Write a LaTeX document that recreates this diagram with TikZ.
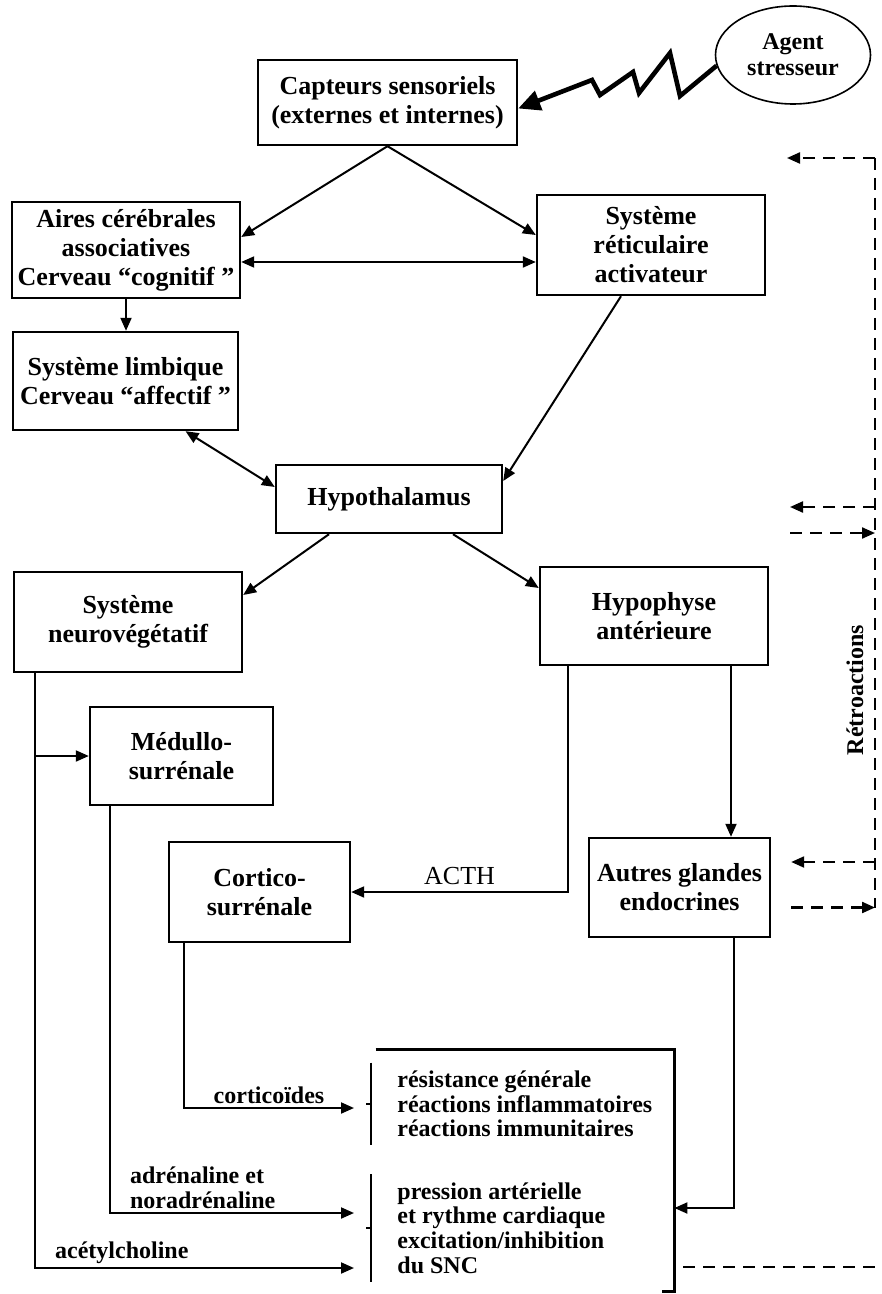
\documentclass[tikz,border=0pt]{standalone}
\usepackage{fontspec}
\setmainfont{Liberation Serif}
\usetikzlibrary{arrows.meta,shapes.geometric}

\begin{document}
\begin{tikzpicture}[
    x=0.5pt, y=-0.5pt,
    >={Triangle[length=6.5pt,width=5.5pt]},
    organe/.style={draw, line width=1.2pt, align=center, inner sep=2pt,
                   font=\fontsize{13}{14.5}\selectfont\bfseries},
    effet/.style={align=left, inner sep=0pt,
                  font=\fontsize{12}{12.3}\selectfont\bfseries},
    hormone/.style={font=\fontsize{12}{12.5}\selectfont\bfseries,
                    inner sep=1.5pt, align=left},
    flow/.style={->, line width=1pt},
    foudre/.style={-{Triangle[length=11pt,width=10pt]}, line width=2.3pt,
                   line join=miter},
    retro/.style={line width=1.1pt, dash pattern=on 6pt off 4pt},
]
\useasboundingbox (0,0) rectangle (882,1294);

% --- stress input ---
\node[organe, minimum width=129.5pt, minimum height=42.5pt] (capteurs)
  at (387.5,102.5) {Capteurs sensoriels\\(externes et internes)};
\node[draw, ellipse, line width=0.8pt, inner sep=0pt, align=center,
      minimum width=77.5pt, minimum height=49pt,
      font=\fontsize{12}{13}\selectfont\bfseries] (stresseur)
  at (793,55) {Agent\\stresseur};

% --- brain ---
\node[organe, minimum width=114pt, minimum height=48pt] (aires)
  at (126,250) {Aires cérébrales\\associatives\\Cerveau “cognitif ”};
\node[organe, minimum width=114pt, minimum height=50pt] (reticulaire)
  at (651,245) {Système\\réticulaire\\activateur};
\node[organe, minimum width=112.5pt, minimum height=49pt] (limbique)
  at (125.5,381) {Système limbique\\Cerveau “affectif ”};
\node[organe, minimum width=113pt, minimum height=34pt] (hypothalamus)
  at (389,499) {Hypothalamus};

% --- effectors ---
\node[organe, minimum width=114pt, minimum height=50pt] (neuro)
  at (128,622) {Système\\neurovégétatif};
\node[organe, minimum width=114pt, minimum height=49pt] (hypophyse)
  at (654,616) {Hypophyse\\antérieure};
\node[organe, minimum width=91.5pt, minimum height=49pt] (medullo)
  at (181.5,756) {Médullo-\\surrénale};
\node[organe, minimum width=90.5pt, minimum height=50pt] (cortico)
  at (259.5,892) {Cortico-\\surrénale};
\node[organe, minimum width=90.5pt, minimum height=49.5pt] (autres)
  at (679.5,887.5) {Autres glandes\\endocrines};

% --- effects ---
\node[minimum width=149pt, minimum height=120.5pt, inner sep=0pt] (effets)
  at (525,1170.5) {};
\draw[line width=1.2pt] (effets.north west) -- (effets.north east)
  -- (effets.south east) -- ++(-6pt,0);
\node[effet, anchor=west] (effetsA) at (397,1104)
  {résistance générale\\réactions inflammatoires\\réactions immunitaires};
\node[effet, anchor=west] (effetsB) at (397,1228)
  {pression artérielle\\et rythme cardiaque\\excitation/inhibition\\du SNC};
\foreach \e in {effetsA,effetsB} {
  \draw[line width=1pt] ([xshift=-13pt,yshift=4pt]\e.north west)
    -- ([xshift=-13pt,yshift=-4pt]\e.south west);
  \draw[line width=1pt] ([xshift=-13pt]\e.west) -- ++(-2.5pt,0);
}

% --- stressor ---
\draw[foudre] (stresseur.188) -- (680,96) -- (670,53) -- (639,93)
  -- (633,72) -- (600,95) -- (592,80) -- ([yshift=-3pt]capteurs.east);

% --- central pathways ---
\draw[flow] (capteurs.south) -- ([yshift=6.5pt]aires.east);
\draw[flow] (capteurs.south) -- ([yshift=5pt]reticulaire.west);
\coordinate (ar) at ([yshift=-6pt]aires.east);
\draw[flow, <->] (ar) -- (ar -| reticulaire.west);
\draw[flow] (aires.south) -- (aires.south |- limbique.north);
\draw[flow, <->] ([xshift=30pt]limbique.south) -- ([yshift=6pt]hypothalamus.west);
\draw[flow] ([xshift=-15pt]reticulaire.south) -- ([yshift=9pt]hypothalamus.east);
\draw[flow] ([xshift=-30pt]hypothalamus.south) -- ([yshift=13.5pt]neuro.east);
\draw[flow] ([xshift=32pt]hypothalamus.south) -- ([yshift=14pt]hypophyse.west);

% --- hormonal and nervous outputs ---
\coordinate (nv) at ([xshift=-46.5pt]neuro.south);
\draw[flow] (nv |- medullo.west) -- (medullo.west);
\draw[flow] (nv) |- node[pos=0.636, above, hormone]{acétylcholine}
  ([xshift=-21.5pt,yshift=-20pt]effetsB.west);
\draw[flow] ([xshift=-35.75pt]medullo.south)
  |- node[pos=0.69, above, hormone]{adrénaline et\\noradrénaline}
  ([xshift=-21.5pt,yshift=7.5pt]effetsB.west);
\draw[flow] ([xshift=-37.75pt]cortico.south)
  |- node[pos=0.75, above, hormone]{corticoïdes}
  ([xshift=-21.5pt,yshift=-2pt]effetsA.west);
\draw[flow] ([xshift=-43pt]hypophyse.south)
  |- node[pos=0.75, above, font=\fontsize{13}{14}\selectfont]{ACTH} (cortico.east);
\coordinate (ha) at ([xshift=38.5pt]hypophyse.south);
\draw[flow] (ha) -- (ha |- autres.north);
\draw[flow] ([xshift=27.25pt]autres.south) |- ([yshift=-18.75pt]effets.east);

% --- feedback loops ---
\coordinate (rhaut) at (875,158);
\coordinate (rbas) at (875,908);
\coordinate (rcapt) at (787,158);
\coordinate (rhypoA) at (790,507);
\coordinate (rhypoB) at (790,533);
\coordinate (rautA) at ([xshift=10pt,yshift=12.75pt]autres.east);
\coordinate (rautB) at ([xshift=10pt,yshift=-10pt]autres.east);
\coordinate (rsortie) at ([xshift=4.5pt,yshift=-48.25pt]effets.east);
\draw[retro] (rhaut) -- (rbas);
\draw[retro, ->] (rhaut) -- (rcapt);
\draw[retro, ->] (rhaut |- rhypoA) -- (rhypoA);
\draw[retro, ->] (rhypoB) -- (rhaut |- rhypoB);
\draw[retro, ->] (rhaut |- rautA) -- (rautA);
\draw[retro, ->] (rautB) -- (rhaut |- rautB);
\draw[retro] (rsortie) -- (882,1267);
\node[rotate=90, font=\fontsize{12}{12}\selectfont\bfseries] (retroactions)
  at (855,690) {Rétroactions};
\end{tikzpicture}
\end{document}
